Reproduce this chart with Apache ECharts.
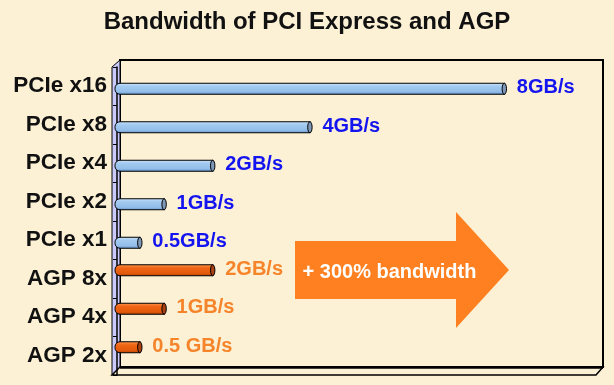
<!DOCTYPE html>
<html>
<head>
<meta charset="utf-8">
<script src="https://cdn.jsdelivr.net/npm/echarts@6/dist/echarts.min.js"></script>
<style>
html,body{margin:0;padding:0;background:#FCF1D5;}
#chart{width:614px;height:385px;}
</style>
</head>
<body>
<div id="chart"></div>
<script>
// ---- data ----
var categories = ['PCIe x16','PCIe x8','PCIe x4','PCIe x2','PCIe x1','AGP 8x','AGP 4x','AGP 2x'];
var pcieValues = [8, 4, 2, 1, 0.5];
var pcieLabels = ['8GB/s','4GB/s','2GB/s','1GB/s','0.5GB/s'];
var agpValues = [2, 1, 0.5];
var agpLabels = ['2GB/s','1GB/s','0.5 GB/s'];
var arrowText = '+ 300% bandwidth';
var titleText = 'Bandwidth of PCI Express and AGP';

var FONT = '"Liberation Sans", Arial, Helvetica, sans-serif';

var pcieData = pcieValues.map(function(v, i){ return [v, i]; });
var agpData = agpValues.map(function(v, i){ return [v, pcieValues.length + i]; });

function makeRender(grad, capColor, textColor, dy, labels){
  return function(params, api){
    var v = api.value(0), c = api.value(1);
    var p0 = api.coord([0, c]);
    var p1 = api.coord([v, c]);
    var h = 11;
    var yc = p0[1] + dy;
    var x0 = p0[0] - 2;
    var x1 = p1[0];
    var text = labels[params.dataIndex];
    return {
      type: 'group',
      children: [
        {
          type: 'rect',
          shape: {x: x0, y: yc - h/2, width: x1 - x0 - 1, height: h, r: [5, 0, 0, 5]},
          style: {
            fill: new echarts.graphic.LinearGradient(0, 0, 0, 1, grad),
            stroke: '#000', lineWidth: 1
          }
        },
        {
          type: 'ellipse',
          shape: {cx: x1 - 1.5, cy: yc, rx: 2.2, ry: h/2},
          style: {fill: capColor, stroke: '#000', lineWidth: 1}
        },
        {
          type: 'text',
          style: {
            text: text, x: x1 + 11, y: yc - 1,
            fill: textColor, font: 'bold 20px ' + FONT,
            textAlign: 'left', textVerticalAlign: 'middle'
          }
        }
      ]
    };
  };
}

var blueGrad = [
  {offset: 0, color: '#CDE6FC'},
  {offset: 0.3, color: '#A2CAF0'},
  {offset: 0.75, color: '#93BEEA'},
  {offset: 1, color: '#5F8FC6'}
];
var orangeGrad = [
  {offset: 0, color: '#FF9A55'},
  {offset: 0.3, color: '#F06616'},
  {offset: 0.75, color: '#E35A0C'},
  {offset: 1, color: '#B04204'}
];

var chart = echarts.init(document.getElementById('chart'), null, {renderer: 'canvas'});

var option = {
  backgroundColor: '#FCF1D5',
  animation: false,
  title: {
    text: titleText,
    left: 'center',
    top: 5,
    textStyle: {fontFamily: FONT, fontWeight: 'bold', fontSize: 24, color: '#111'}
  },
  grid: {left: 117, top: 67, width: 486, height: 308, containLabel: false},
  xAxis: {
    type: 'value', min: 0, max: 10,
    show: false
  },
  yAxis: {
    type: 'category',
    data: categories,
    inverse: true,
    offset: 5,
    axisLine: {show: true, lineStyle: {color: '#000', width: 1.5}},
    axisTick: {show: true, length: 4, lineStyle: {color: '#000', width: 1}},
    axisLabel: {
      margin: 5,
      fontFamily: FONT, fontWeight: 'bold', fontSize: 22.5, color: '#111'
    },
    splitLine: {show: false}
  },
  graphic: [
    // back wall
    {type: 'rect', z: -10, shape: {x: 120, y: 60, width: 483, height: 307},
     style: {fill: 'rgba(0,0,0,0)', stroke: '#000', lineWidth: 2}},
    // left wall
    {type: 'polygon', z: -9, shape: {points: [[112, 67], [120, 60], [120, 367], [112, 375]]},
     style: {fill: '#C9C9FA', stroke: '#000', lineWidth: 1}},
    // floor
    {type: 'polygon', z: -9, shape: {points: [[112, 375], [120, 367], [603, 367], [596, 375]]},
     style: {fill: '#FCF1D5', stroke: '#000', lineWidth: 1.5}},
    {type: 'line', z: -8, shape: {x1: 120, y1: 367.5, x2: 603, y2: 367.5},
     style: {stroke: '#000', lineWidth: 2.5}},
    // arrow
    {type: 'polygon', z: 5,
     shape: {points: [[295, 241], [456, 241], [456, 212], [509, 270], [456, 328], [456, 299], [295, 299]]},
     style: {fill: '#FF8020', stroke: 'none'}},
    {type: 'text', z: 6,
     style: {text: arrowText, x: 389.5, y: 272, textAlign: 'center', textVerticalAlign: 'middle',
             fill: '#FFFFFF', font: 'bold 20px ' + FONT}}
  ],
  series: [
    {
      type: 'custom',
      name: 'PCIe',
      renderItem: makeRender(blueGrad, '#7F98B8', '#1414F0', 2.5, pcieLabels),
      encode: {x: 0, y: 1},
      data: pcieData,
      z: 3
    },
    {
      type: 'custom',
      name: 'AGP',
      renderItem: makeRender(orangeGrad, '#A84010', '#F5842A', -8.5, agpLabels),
      encode: {x: 0, y: 1},
      data: agpData,
      z: 3
    }
  ]
};
chart.setOption(option);
</script>
</body>
</html>
